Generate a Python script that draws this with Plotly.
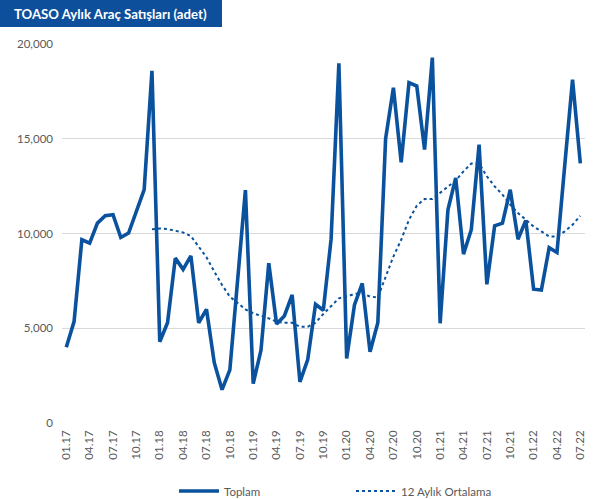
import plotly.graph_objects as go

# Month labels 01.17 .. 07.22
months = [f"{m:02d}.{y:02d}" for y in range(17, 23) for m in range(1, 13)][:67]

toplam = [
    4000, 5350, 9670, 9490, 10550, 10940, 10990, 9790, 10020, 11200, 12310, 18580,   # 2017
    4290, 5290, 8700, 8110, 8820, 5290, 6000, 3180, 1760, 2800, 7600, 12290,          # 2018
    2080, 3850, 8430, 5220, 5650, 6760, 2170, 3350, 6260, 5950, 9700, 18980,          # 2019
    3400, 6230, 7370, 3760, 5290, 15000, 17690, 13760, 17960, 17780, 14430, 19280,    # 2020
    5260, 11250, 12930, 8910, 10200, 14690, 7320, 10410, 10550, 12310, 9700, 10690,   # 2021
    7060, 7020, 9250, 9000, 13600, 18120, 13700                                       # 2022
]

ortalama = [None] * 11 + [
    10230,                                                                             # 12.17
    10265, 10230, 10140, 10055, 9860, 9310, 8750, 7990, 7285, 6670, 6315, 6000,       # 2018
    5790, 5660, 5520, 5345, 5290, 5290, 5080, 5080, 5290, 5750, 6140, 6580,           # 2019
    6670, 6810, 6845, 6670, 6630, 7725, 8785, 9670, 10725, 11465, 11820, 11820,       # 2020
    12135, 12490, 12800, 13280, 13690, 13690, 13020, 12490, 12050, 11520, 11080, 10725,  # 2021
    10370, 10110, 9840, 9840, 10110, 10460, 10935                                      # 2022
]

x_idx = list(range(len(months)))
tick_idx = x_idx[::3]
tick_text = [months[i] for i in tick_idx]

LINE = "#0a529d"
BAND = "#0d4f9a"
GRID = "#d9d9d9"
TXT = "#595959"
FONT = "Lato, Carlito, Calibri, sans-serif"

fig = go.Figure()
fig.add_trace(go.Scatter(
    x=x_idx, y=toplam, mode="lines", name="Toplam",
    line=dict(color=LINE, width=3.6), hoverinfo="skip"))
fig.add_trace(go.Scatter(
    x=x_idx, y=ortalama, mode="lines", name="12 Aylık Ortalama",
    line=dict(color=LINE, width=2, dash="dot"), hoverinfo="skip"))

W, H = 603, 499
L, R, T, B = 62, 18, 44, 76
pw, ph = W - L - R, H - T - B

def px2paper_x(px):
    return (px - L) / pw

def px2paper_y(py):
    return (H - B - py) / ph

fig.update_layout(
    width=W, height=H,
    margin=dict(l=L, r=R, t=T, b=B, autoexpand=False),
    paper_bgcolor="white", plot_bgcolor="white",
    font=dict(family=FONT, color=TXT, size=11),
    showlegend=True,
    legend=dict(orientation="h", xref="container", yref="container",
                x=174 / W, xanchor="left",
                y=(H - 491) / H, yanchor="middle",
                font=dict(size=11.5, color=TXT),
                entrywidth=122, entrywidthmode="pixels",
                itemwidth=40, bgcolor="rgba(0,0,0,0)"),
    xaxis=dict(range=[-0.55, 66.6], tickmode="array", tickvals=tick_idx,
               ticktext=tick_text, tickangle=-90, showgrid=False,
               zeroline=False, showline=False, ticks="",
               ticklabelstandoff=4,
               tickfont=dict(size=11.5, color=TXT), fixedrange=True),
    yaxis=dict(range=[0, 20000], tickvals=[0, 5000, 10000, 15000, 20000],
               tickformat=",", showgrid=True, gridcolor=GRID, gridwidth=1,
               zeroline=False, showline=False, ticks="",
               ticklabelstandoff=8,
               tickfont=dict(size=11.5, color=TXT), fixedrange=True),
    shapes=[dict(type="rect", xref="paper", yref="paper",
                 x0=px2paper_x(0), x1=px2paper_x(222),
                 y0=px2paper_y(27), y1=px2paper_y(0),
                 fillcolor=BAND, line=dict(width=0), layer="above")],
    annotations=[dict(text="<b>TOASO Aylık Araç Satışları (adet)</b>",
                      xref="paper", yref="paper",
                      x=px2paper_x(12), y=px2paper_y(14),
                      xanchor="left", yanchor="middle", showarrow=False,
                      font=dict(family=FONT, size=13.2, color="white"))],
)

fig.write_html("out.html",
               config={"displayModeBar": False, "staticPlot": True},
               post_script="document.body.style.margin='0';"
                           "document.body.style.overflow='hidden';")
